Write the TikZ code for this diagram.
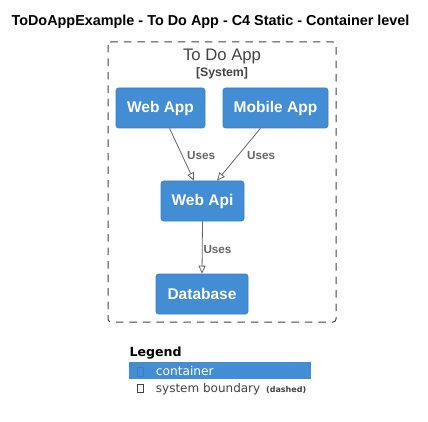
\documentclass[tikz,border=0pt]{standalone}
\usepackage{fontspec}
\setmainfont{Liberation Sans}
\newfontfamily\legfont{DejaVu Sans}
\usetikzlibrary{arrows.meta,calc}
\definecolor{cblue}{HTML}{438DD5}
\definecolor{cborder}{HTML}{3C7FC0}
\definecolor{cgrey}{HTML}{444444}
\definecolor{carrow}{HTML}{666666}
\tikzset{
  container/.style={draw=cborder, fill=cblue, rounded corners=2.5pt, line width=0.6pt,
    text=white, font=\fontsize{15.5}{18}\selectfont\bfseries, inner sep=0pt,
    minimum height=40pt},
  rel/.style={draw=carrow, line width=0.8pt,
    -{Triangle[open, length=8pt, width=7pt, fill=white]}},
  rellabel/.style={text=carrow, font=\fontsize{11.7}{14}\selectfont\bfseries, anchor=base west, inner sep=0pt},
  boundary/.style={draw=cgrey, line width=1pt, dash pattern=on 7.5pt off 6pt, rounded corners=3pt},
  iconbox/.style={line width=0.6pt}
}
\begin{document}
\begin{tikzpicture}[x=1pt,y=-1pt]
\useasboundingbox (0,0) rectangle (428,422);
\fill[white] (0,0) rectangle (428,422);
% title
\node[anchor=base, inner sep=0pt, font=\fontsize{14.4}{17}\selectfont\bfseries] (title) at (210.5,26) {ToDoAppExample - To Do App - C4 Static - Container level};
% boundary
\draw[boundary] (108,42) rectangle (336,322);
\node[anchor=base, inner sep=0pt, text=cgrey, font=\fontsize{16.7}{20}\selectfont] (btitle) at (222,61) {To Do App};
\node[anchor=base, inner sep=0pt, text=cgrey, font=\fontsize{12.3}{14}\selectfont\bfseries] (bsub) at (222,77) {[System]};
% containers
\node[container, minimum width=89pt] (webapp) at (160.5,108) {Web App};
\node[container, minimum width=105pt] (mobile) at (275.5,108) {Mobile App};
\node[container, minimum width=83pt] (webapi) at (202.5,201) {Web Api};
\node[container, minimum width=92pt] (db) at (202,294) {Database};
% relations
\draw[rel] ([xshift=9pt]webapp.south) -- ([xshift=-8.5pt]webapi.north);
\draw[rel] ([xshift=-15pt]mobile.south) -- ([xshift=14.5pt]webapi.north);
\draw[rel] (webapi.south) -- (db.north);
\node[rellabel] (l1) at (187,160) {Uses};
\node[rellabel] (l2) at (247,160) {Uses};
\node[rellabel] (l3) at (203.3,253) {Uses};
% legend
\node[anchor=base west, inner sep=0pt, font=\legfont\fontsize{12.6}{15}\selectfont\bfseries] (leg) at (129.3,356.7) {Legend};
\fill[cblue] (129,362) rectangle (310.5,378.5);
\draw[iconbox, draw=cborder] (137,367.5) rectangle (143.5,376);
\node[anchor=base west, inner sep=0pt, text=white, font=\legfont\fontsize{12.2}{14}\selectfont] (lc) at (155.7,375.5) {container};
\draw[iconbox, draw=cgrey] (137,384) rectangle (143.5,392.5);
\node[anchor=base west, inner sep=0pt, text=cgrey, font=\legfont\fontsize{12}{14}\selectfont] (lb) at (155.7,392.5) {system boundary};
\node[anchor=base west, inner sep=0pt, text=cgrey, font=\legfont\fontsize{8}{10}\selectfont\bfseries] (ld) at (266,392.5) {(dashed)};
\end{tikzpicture}
\end{document}
